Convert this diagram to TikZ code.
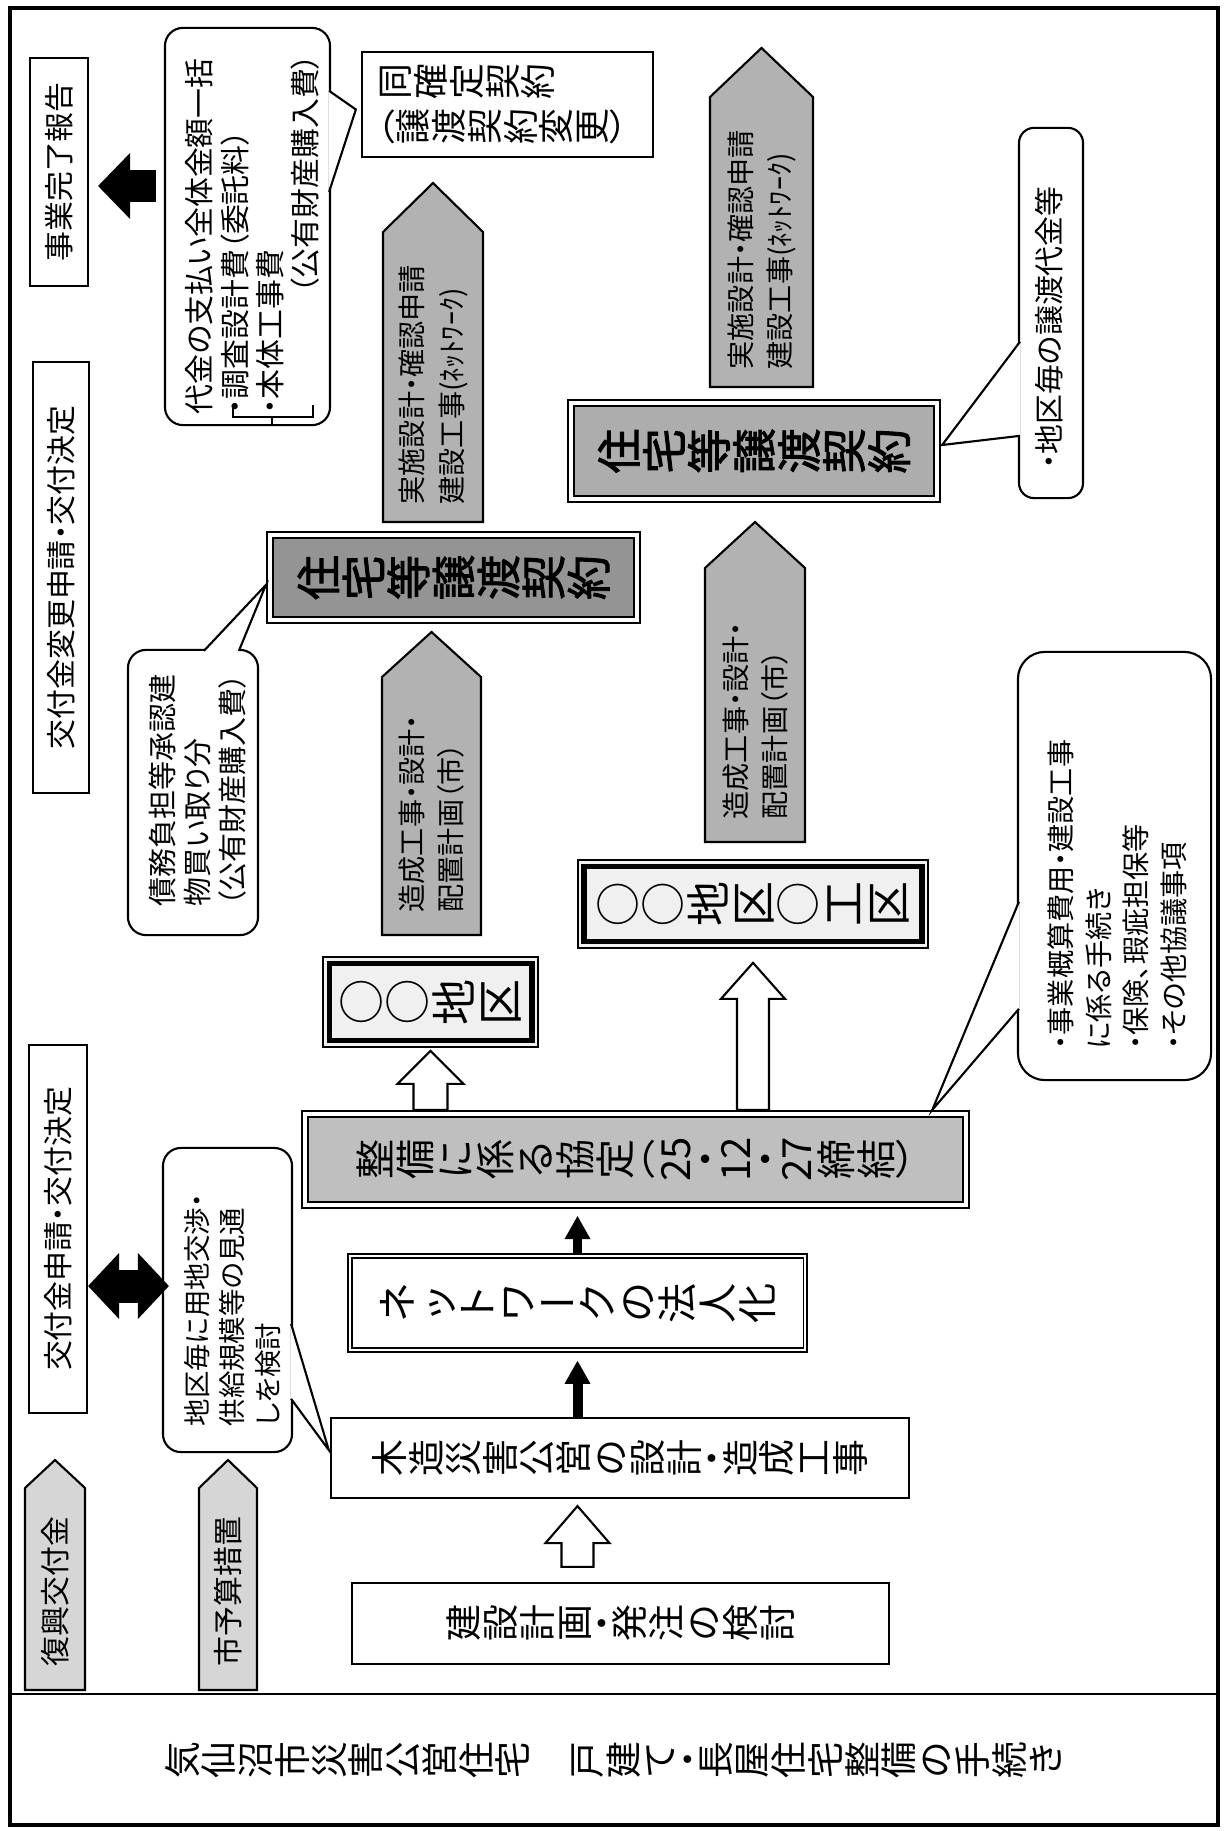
\documentclass[tikz,border=0pt]{standalone}
\usepackage{fontspec}
\usepackage{graphicx}
\setmainfont{Noto Sans CJK JP}[RawFeature=+palt]
\newfontfamily\jpbold{Noto Sans CJK JP}[RawFeature=+palt, FakeBold=2]
\usetikzlibrary{arrows.meta,calc}

\ExplSyntaxOn
\cs_new_protected:Npn \tate_char:n #1
  {
    \str_case:nnF {#1}
      {
        {（}{（}
        {）}{）}
        {・}{・}
        {ー}{ー}
        {○}{○}
        {　}{\hspace*{1em}}
      }
      { \rotatebox[origin=c]{90}{\rule[-0.12em]{0pt}{1em}#1} }
  }
\NewDocumentCommand\tate{m}{\tl_map_function:nN {#1} \tate_char:n}
\ExplSyntaxOff

\newcommand\pent[6]{\filldraw[thinline, fill=#6] (#1-#5,#4) -- (#1-#5,#3) -- (#1,#2) -- (#1+#5,#3) -- (#1+#5,#4) -- cycle;}
\newcommand\hollowarrow[5]{\filldraw[thinline, fill=white] ($(#1)+(-#3,0)$) -- ($(#2)+(-#3,#4)$) -- ($(#2)+(-#5,#4)$) -- (#2) -- ($(#2)+(#5,#4)$) -- ($(#2)+(#3,#4)$) -- ($(#1)+(#3,0)$) -- cycle;}
\newcommand\pointer[3]{\fill[white] (#1) -- (#3) -- (#2) -- cycle; \draw[thinline] (#1) -- (#3) -- (#2);}

\colorlet{pentfill}{black!30}
\colorlet{lightfill}{black!16}

\begin{document}
\begin{tikzpicture}[x=0.01cm, y=-0.01cm,
    thinline/.style={line width=0.6pt},
    plainbox/.style={draw, thinline, fill=white, inner sep=0pt},
    yokobox/.style={plainbox, rotate=90, font=\fontsize{8.5}{10}\selectfont},
    callout/.style={draw, thinline, fill=white, rounded corners=0.18cm, inner sep=0pt},
    yokotext/.style={rotate=90, anchor=west, inner sep=0pt, align=left},
    pentfont/.style={font=\fontsize{8}{11.3}\selectfont},
    dblthick/.style={draw, double, double distance=1.1pt, line width=0.6pt, inner sep=0pt},
    dblthin/.style={draw, double, double distance=0.6pt, line width=0.45pt, fill=white, inner sep=0pt},
    framebox/.style={draw, line width=0.45pt, inner sep=0pt},
    bigarrow/.style={line width=0.32cm, -{Triangle[length=0.32cm, width=0.66cm, line width=0pt]}},
    smallarrow/.style={line width=0.09cm, -{Triangle[length=0.23cm, width=0.26cm, line width=0pt]}, shorten >=0.1cm},
  ]
  \fill[white] (0,0) rectangle (1224,1831);
  \draw[line width=1.2pt] (10,8) rectangle (1218,1825);
  \draw[thinline] (10,1694) -- (1218,1694);
  \node[inner sep=0pt, font=\fontsize{10.45}{12}\selectfont] (title) at (614,1760) {\tate{気仙沼市災害公営住宅　戸建て・長屋住宅整備の手続き}};

  % rotated boxes: south = right side, west = bottom side
  \node[yokobox, minimum width=2.28cm, minimum height=0.58cm] (jigyo) at (59,172) {事業完了報告};
  \node[yokobox, minimum width=4.31cm, minimum height=0.56cm] (henko) at (61,577.5) {交付金変更申請・交付決定};
  \node[yokobox, minimum width=3.68cm, minimum height=0.58cm] (shinsei) at (58,1229) {交付金申請・交付決定};

  \pent{433}{183}{232}{522}{50}{pentfill}
  \pent{761.5}{48}{97}{387}{51.5}{pentfill}
  \pent{431.5}{632}{677}{935}{49.5}{pentfill}
  \pent{755}{522}{568}{842}{50}{pentfill}
  \pent{55}{1460}{1488}{1690}{30}{lightfill}
  \pent{228}{1460}{1488}{1690}{29}{lightfill}
  \node[yokotext, pentfont] (jisshi1) at (433.5,505) {実施設計・確認申請\\建設工事(ﾈｯﾄﾜｰｸ)};
  \node[yokotext, pentfont] (jisshi2) at (762,370) {実施設計・確認申請\\建設工事(ﾈｯﾄﾜｰｸ)};
  \node[yokotext, pentfont] (zosei1) at (431.5,913) {造成工事・設計・\\配置計画（市）};
  \node[yokotext, pentfont] (zosei2) at (755.5,820) {造成工事・設計・\\配置計画（市）};
  \node[yokotext, font=\fontsize{8.5}{10}\selectfont] (fukko) at (55,1667) {復興交付金};
  \node[yokotext, font=\fontsize{8.5}{10}\selectfont] (shiyosan) at (228,1667) {市予算措置};

  \node[plainbox, minimum width=2.91cm, minimum height=1.05cm, text width=2.61cm, align=left,
    font=\fontsize{10.2}{12.8}\selectfont] (douka) at (507.5,104.5) {\tate{同確定契約}\\\tate{（譲渡契約変更）}};
  \node[dblthick, fill=black!42, minimum width=3.67cm, minimum height=0.85cm,
    font=\jpbold\fontsize{12.8}{14}\selectfont] (juto1) at (453.5,577.5) {\tate{住宅等譲渡契約}};
  \node[dblthick, fill=black!32, minimum width=3.66cm, minimum height=0.96cm,
    font=\jpbold\fontsize{12.8}{14}\selectfont] (juto2) at (754,451) {\tate{住宅等譲渡契約}};

  \node[framebox, fill=black!6, minimum width=2.15cm, minimum height=0.9cm,
    font=\fontsize{13.1}{14}\selectfont] (chiku1) at (430.5,1002) {\tate{○○地区}};
  \draw[line width=1.5pt] ([shift={(7,-7)}]chiku1.south west) rectangle ([shift={(-7,7)}]chiku1.north east);
  \node[framebox, fill=black!6, minimum width=3.5cm, minimum height=0.88cm,
    font=\fontsize{12.8}{14}\selectfont] (chiku2) at (753,904) {\tate{○○地区○工区}};
  \draw[line width=1.5pt] ([shift={(7,-7)}]chiku2.south west) rectangle ([shift={(-7,7)}]chiku2.north east);

  \node[dblthick, fill=black!25, minimum width=6.61cm, minimum height=0.91cm,
    font=\fontsize{11.4}{12}\selectfont] (kyotei) at (635.5,1159.5) {\tate{整備に係る協定（{25}・{12}・{27}締結）}};
  \node[dblthin, minimum width=4.55cm, minimum height=0.94cm,
    font=\fontsize{11.4}{12}\selectfont] (network) at (577.5,1303) {\tate{ネットワークの法人化}};
  \node[plainbox, minimum width=5.78cm, minimum height=0.8cm,
    font=\fontsize{10.5}{12}\selectfont] (mokuzo) at (620,1458) {\tate{木造災害公営の設計・造成工事}};
  \node[plainbox, minimum width=5.37cm, minimum height=0.81cm,
    font=\fontsize{10.5}{12}\selectfont] (kensetsu) at (620.5,1623.5) {\tate{建設計画・発注の検討}};

  \node[callout, minimum width=1.65cm, minimum height=3.97cm] (daikin) at (247.5,226.5) {};
  \node[yokotext, text width=3.6cm, font=\fontsize{8.5}{10}\selectfont] (daikin text) at (252.5,415)
    {代金の支払い全体金額一括\\・調査設計費（委託料）\\・本体工事費\\\hskip0pt plus1filll（公有財産購入費）};
  \draw[thinline] (233,405) -- (233,417) -- (313,417) -- (313,405);
  \draw[thinline] (272,417) -- (272,424);
  \pointer{$(daikin.north east)+(-2,64)$}{$(daikin.north east)+(-2,165)$}{$(douka.west)+(-5,5)$}

  \node[callout, rounded corners=0.15cm, minimum width=0.64cm, minimum height=3.70cm] (joto) at (1051,313) {};
  \node[yokotext, font=\fontsize{8.5}{10}\selectfont] (joto text) at (1049,470) {・地区毎の譲渡代金等};
  \pointer{$(joto.north west)+(2,215)$}{$(joto.north west)+(2,309)$}{$(juto2.east)+(4,-6)$}

  \node[callout, rounded corners=0.27cm, minimum width=1.93cm, minimum height=4.28cm] (gaisan) at (1114.5,866) {};
  \node[yokotext, font=\fontsize{8}{10.7}\selectfont] (gaisan text) at (1117.5,1050)
    {・事業概算費用・建設工事\\に係る手続き\\・保険、瑕疵担保等\\・その他協議事項};
  \pointer{$(gaisan.north west)+(2,251)$}{$(gaisan.north west)+(2,358)$}{$(kyotei.north east)+(-35,-3)$}

  \node[callout, minimum width=1.30cm, minimum height=2.85cm] (saimu) at (193,792.5) {};
  \node[yokotext, font=\fontsize{8.25}{9.96}\selectfont] (saimu text) at (198,907)
    {債務負担等承認建\\物買い取り分\\（公有財産購入費）};
  \pointer{$(saimu.north west)+(77,2)$}{$(saimu.north west)+(112,2)$}{$(juto1.west)+(-3,7.5)$}

  \node[callout, minimum width=1.29cm, minimum height=3.04cm] (yochi) at (227.5,1300) {};
  \node[yokotext, font=\fontsize{7.8}{10.1}\selectfont] (yochi text) at (232.5,1427)
    {地区毎に用地交渉・\\供給規模等の見通\\しを検討};
  \pointer{$(yochi.north east)+(-2,177)$}{$(yochi.north east)+(-2,252)$}{$(mokuzo.west)+(-1,-8)$}

  \coordinate (kanryo) at (0,186);
  \draw[bigarrow] ($(daikin.west |- kanryo)+(-8,0)$) -- ($(jigyo.south |- kanryo)+(9,0)$);
  \coordinate (kofu) at (0,1286);
  \draw[bigarrow, line width=0.33cm,
    {Triangle[length=0.31cm, width=0.66cm, line width=0pt]}-{Triangle[length=0.31cm, width=0.66cm, line width=0pt]}]
    (shinsei.south |- kofu) -- ($(yochi.west |- kofu)+(7,0)$);

  \draw[smallarrow] (network.north) -- (network.north |- kyotei.south);
  \draw[smallarrow, line width=0.1cm] (network.south |- mokuzo.north) -- (network.south);

  \coordinate (a5 base) at ($(network.south |- kensetsu.north)+(0,-15)$);
  \coordinate (a5 tip) at ($(network.south |- mokuzo.south)+(0,7)$);
  \hollowarrow{a5 base}{a5 tip}{16}{37}{32}
  \coordinate (a6 base) at ($(chiku1.south |- kyotei.north)+(0,-3)$);
  \coordinate (a6 tip) at ($(chiku1.south)+(0,3)$);
  \hollowarrow{a6 base}{a6 tip}{17}{33}{33}
  \coordinate (a7 base) at ($(chiku2.south |- kyotei.north)+(0,-3)$);
  \coordinate (a7 tip) at ($(chiku2.south)+(0,14)$);
  \hollowarrow{a7 base}{a7 tip}{16}{36}{32}
\end{tikzpicture}
\end{document}
